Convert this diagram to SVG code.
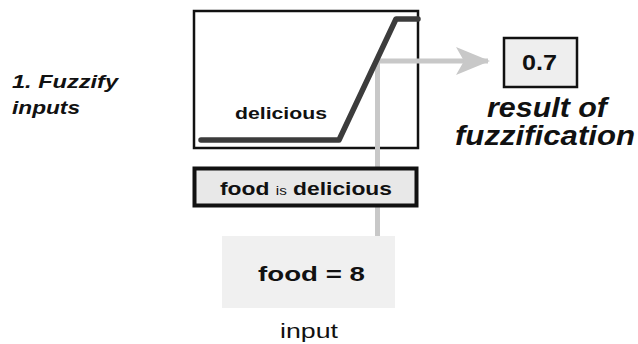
<svg xmlns="http://www.w3.org/2000/svg" width="638" height="344" viewBox="0 0 638 344">
  <style>
    .sans { font-family: "Liberation Sans", Arial, sans-serif; fill: #111; }
    .b { font-weight: bold; }
    .bi { font-weight: bold; font-style: italic; }
    .guide { stroke: #c8c8c8; stroke-width: 5; fill: none; }
  </style>
  <defs>
    <marker id="arrow" viewBox="0 0 34 28" refX="32" refY="14" markerWidth="34" markerHeight="28" orient="auto" markerUnits="userSpaceOnUse">
      <path d="M0,0 L34,14 L0,28 L8,14 Z" fill="#c8c8c8"/>
    </marker>
  </defs>
  <rect width="638" height="344" fill="#fff"/>

  <g id="step-label">
    <text class="sans bi" x="12" y="88" font-size="19" textLength="106" lengthAdjust="spacingAndGlyphs">1. Fuzzify</text>
    <text class="sans bi" x="12" y="114" font-size="19" textLength="68" lengthAdjust="spacingAndGlyphs">inputs</text>
  </g>

  <g id="membership-plot">
    <rect x="194" y="11" width="224" height="137" fill="#fff" stroke="#111" stroke-width="2.5"/>
    <text class="sans b" x="235" y="119" font-size="16" textLength="92" lengthAdjust="spacingAndGlyphs">delicious</text>
  </g>

  <g id="connectors">
    <path class="guide" d="M377.5,236 V61 H488" marker-end="url(#arrow)"/>
  </g>

  <g id="membership-curve">
    <polyline points="201,140 339,140 396,19 418,19" fill="none" stroke="#3c3c3c" stroke-width="5.5" stroke-linecap="round" stroke-linejoin="round"/>
  </g>

  <g id="result">
    <rect x="504" y="38" width="73" height="49" fill="#eee" stroke="#111" stroke-width="2.5"/>
    <text class="sans b" x="522" y="70" font-size="22" textLength="35" lengthAdjust="spacingAndGlyphs">0.7</text>
    <text class="sans bi" x="487" y="117" font-size="27" textLength="120" lengthAdjust="spacingAndGlyphs">result of</text>
    <text class="sans bi" x="455" y="145" font-size="27" textLength="180" lengthAdjust="spacingAndGlyphs">fuzzification</text>
  </g>

  <g id="rule-antecedent">
    <rect x="194.5" y="168.5" width="222" height="37" fill="#e8e8e8" stroke="#111" stroke-width="4"/>
    <text class="sans b" x="220" y="195" font-size="18" textLength="172" lengthAdjust="spacingAndGlyphs">food <tspan font-size="12" font-weight="normal">is</tspan> delicious</text>
  </g>

  <g id="input">
    <rect x="222" y="236" width="173" height="72" fill="#f0f0f0"/>
    <text class="sans b" x="258" y="281" font-size="21" textLength="107" lengthAdjust="spacingAndGlyphs">food = 8</text>
    <text class="sans" x="280" y="338" font-size="21" textLength="58" lengthAdjust="spacingAndGlyphs">input</text>
  </g>
</svg>
